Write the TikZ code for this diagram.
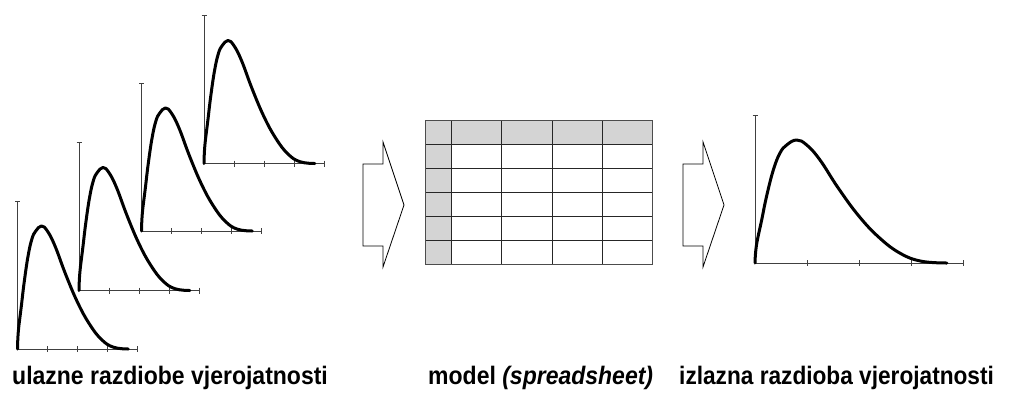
\documentclass[tikz,border=0pt]{standalone}
\usepackage{fontspec}
\setmainfont{Liberation Sans}
\begin{document}
\begin{tikzpicture}[x=1pt,y=-1pt,
  axisline/.style={draw=black!75, line width=0.9pt},
  curveline/.style={draw=black, line width=3pt, line join=round, line cap=round},
  gridline/.style={draw=black!85, line width=0.9pt},
  headfill/.style={fill=black!17, draw=none},
  blockarrow/.style={draw=black, line width=0.8pt, fill=white, line join=miter},
  caption/.style={inner sep=0pt, font=\bfseries\fontsize{23}{27}\selectfont}]
\useasboundingbox (0,0) rectangle (1010,394);

\newcommand\distchart[4]{%
 \begin{scope}[shift={(#1,#2)}]
  \draw[axisline] (0,0) -- (0,-#4);
  \draw[axisline] (-2.5,-#4) -- (2.5,-#4);
  \draw[axisline] (0,0) -- (#3,0);
  \foreach \k in {1,2,3,4} \draw[axisline] ({#3*\k/4},-3) -- ({#3*\k/4},3);
  \begin{scope}[xscale=#3, yscale=#4]
   \draw[curveline] plot[smooth, tension=0.7] coordinates {
     (0,0) (0.007,-0.12) (0.032,-0.29) (0.056,-0.453) (0.088,-0.628)
     (0.120,-0.743) (0.152,-0.797) (0.200,-0.831) (0.249,-0.797)
     (0.3125,-0.696) (0.40,-0.507) (0.50,-0.316) (0.60,-0.168)
     (0.70,-0.064) (0.80,-0.012) (0.923,0)};
  \end{scope}
 \end{scope}}

% input distributions
\distchart{17.5}{349}{120}{148}
\distchart{79}{290.5}{120}{148}
\distchart{141.5}{231}{120}{148}
\distchart{204}{163.5}{120}{148}

% block arrows
\draw[blockarrow] (363,164) -- (383,164) -- (383,142) -- (404,205) -- (383,267) -- (383,246) -- (363,246) -- cycle;
\draw[blockarrow] (683,164) -- (703,164) -- (703,142) -- (724,205) -- (703,267) -- (703,246) -- (683,246) -- cycle;

% spreadsheet
\fill[headfill] (425,120) rectangle (652,144);
\fill[headfill] (425,120) rectangle (451,264);
\foreach \yy in {144,168,192,216,240} \draw[gridline] (425,\yy) -- (652,\yy);
\foreach \xx in {451,501,552,602} \draw[gridline] (\xx,120) -- (\xx,264);
\draw[gridline, draw=black!70] (425,120) rectangle (652,264);

% output distribution
\distchart{755}{263}{208}{148}

% captions
\node[caption, anchor=base west] (inlabel) at (12,384) {\scalebox{1}[1.1]{ulazne razdiobe vjerojatnosti}};
\node[caption, anchor=base west] (modellabel) at (428,384) {\scalebox{1}[1.1]{model \textit{(spreadsheet)}}};
\node[caption, anchor=base west] (outlabel) at (679,384) {\scalebox{0.985}[1.1]{izlazna razdioba vjerojatnosti}};
\end{tikzpicture}
\end{document}
